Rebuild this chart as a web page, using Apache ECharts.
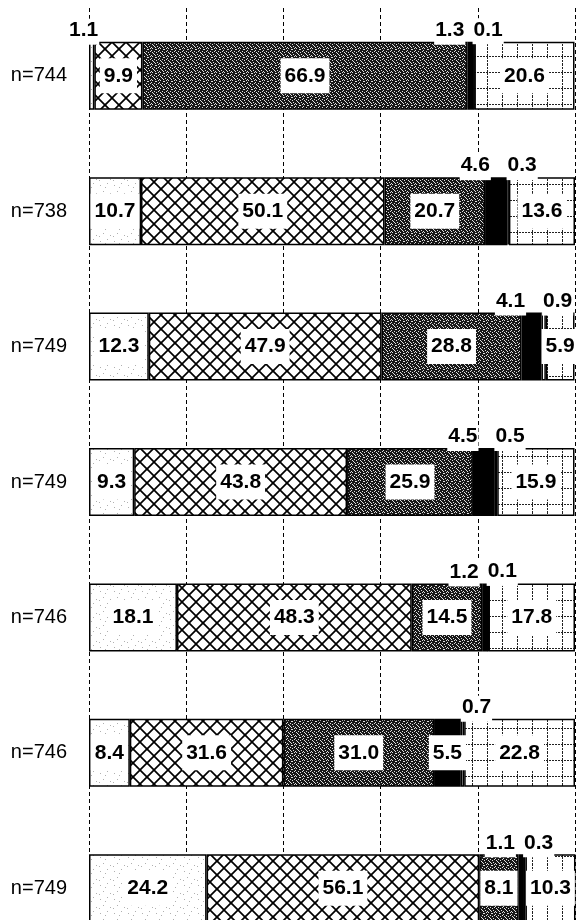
<!DOCTYPE html>
<html>
<head>
<meta charset="utf-8">
<script src="https://cdn.jsdelivr.net/npm/echarts@6/dist/echarts.min.js"></script>
<style>
html,body{margin:0;padding:0;background:#fff;}
#chart{width:576px;height:920px;}
</style>
</head>
<body>
<div id="chart"></div>
<script>
const categories = ['n=744','n=738','n=749','n=749','n=746','n=746','n=749'];
const seg1 = [1.1, 10.7, 12.3, 9.3, 18.1, 8.4, 24.2];
const seg2 = [9.9, 50.1, 47.9, 43.8, 48.3, 31.6, 56.1];
const seg3 = [66.9, 20.7, 28.8, 25.9, 14.5, 31.0, 8.1];
const seg4 = [1.3, 4.6, 4.1, 4.5, 1.2, 5.5, 1.1];
const seg5 = [0.1, 0.3, 0.9, 0.5, 0.1, 0.7, 0.3];
const seg6 = [20.6, 13.6, 5.9, 15.9, 17.8, 22.8, 10.3];
const xTicks = [0, 20, 40, 60, 80, 100];

function tile(w, h, draw) {
  const c = document.createElement('canvas');
  c.width = w; c.height = h;
  const g = c.getContext('2d');
  draw(g, w, h);
  return { image: c, repeat: 'repeat' };
}
const patLight = tile(14, 14, (g, w, h) => {
  g.fillStyle = '#fff'; g.fillRect(0, 0, w, h);
  g.fillStyle = '#b0b0b0';
  [[2,3],[9,1],[5,9],[12,11],[7,5],[1,12]].forEach(p => g.fillRect(p[0], p[1], 1, 1));
});
const patCross = tile(14, 14, (g, w, h) => {
  g.fillStyle = '#fff'; g.fillRect(0, 0, w, h);
  g.strokeStyle = '#000'; g.lineWidth = 1.7;
  for (let k = -1; k <= 1; k++) {
    g.beginPath(); g.moveTo(k * w, 0); g.lineTo(k * w + w, h); g.stroke();
    g.beginPath(); g.moveTo(k * w + w, 0); g.lineTo(k * w, h); g.stroke();
  }
});
const patDark = tile(8, 8, (g, w, h) => {
  g.fillStyle = '#181818'; g.fillRect(0, 0, w, h);
  g.fillStyle = '#e0e0e0';
  [[0,0],[4,1],[2,3],[6,3],[1,5],[5,6],[3,7],[7,7],[6,0],[2,6],[0,4],[4,4],[7,2],[3,1]].forEach(p => g.fillRect(p[0], p[1], 1, 1));
});
const patGrid = tile(15, 16, (g, w, h) => {
  g.fillStyle = '#fff'; g.fillRect(0, 0, w, h);
  g.fillStyle = '#222';
  for (let y = 0; y < h; y += 3) g.fillRect(7, y, 1, 2);
  for (let x = 0; x < w; x += 3) g.fillRect(x, 8, 2, 1);
});

const fills = [patLight, patCross, patDark, '#000', '#fff', patGrid];
const outsideOffset = [-8, 0, 0, -21, 14, 0];
const segs = [seg1, seg2, seg3, seg4, seg5, seg6];

const labelFont = { fontFamily: 'Liberation Sans, Arial, sans-serif', fontSize: 21, fontWeight: 'bold', color: '#000' };

const series = segs.map((arr, si) => ({
  type: 'bar',
  stack: 'total',
  barWidth: 68,
  itemStyle: { color: fills[si], borderColor: '#000', borderWidth: 1.5 },
  emphasis: { disabled: true },
  data: arr.map(v => {
    const outside = v < 5;
    return {
      value: v,
      label: outside ? {
        show: true, position: 'top', distance: -3,
        offset: [outsideOffset[si], 0],
        backgroundColor: '#fff', padding: [1, 1, 4, 1],
        ...labelFont
      } : {
        show: true, position: 'inside',
        backgroundColor: '#fff', padding: [8, 4, 6, 4],
        ...labelFont
      }
    };
  }),
  label: { formatter: p => Number(p.value).toFixed(1) }
}));

const chart = echarts.init(document.getElementById('chart'), null, { renderer: 'canvas' });
chart.setOption({
  animation: false,
  backgroundColor: '#fff',
  grid: { left: 89, width: 486, top: 8, height: 948, containLabel: false, outerBoundsMode: 'none' },
  xAxis: {
    type: 'value', min: xTicks[0], max: xTicks[xTicks.length - 1], interval: 20,
    axisLine: { show: false }, axisTick: { show: false }, axisLabel: { show: false },
    splitLine: { show: true, lineStyle: { color: '#000', width: 1, type: [4, 3] } }
  },
  yAxis: {
    type: 'category', data: categories, inverse: true,
    axisLine: { show: false }, axisTick: { show: false }, splitLine: { show: false },
    axisLabel: { margin: 22, fontSize: 20, color: '#000', fontFamily: 'Liberation Sans, Arial, sans-serif' }
  },
  series: series
});
</script>
</body>
</html>
